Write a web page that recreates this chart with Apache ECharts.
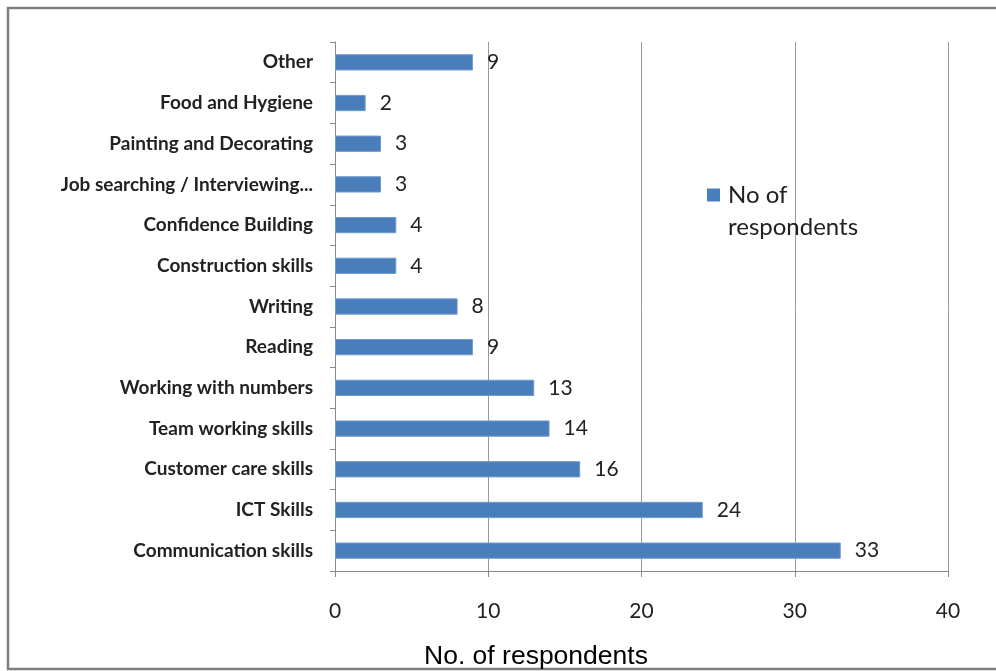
<!DOCTYPE html>
<html>
<head>
<meta charset="utf-8">
<script src="https://cdn.jsdelivr.net/npm/echarts@6/dist/echarts.min.js"></script>
<style>
  html, body { margin: 0; padding: 0; background: #fff; }
  #chart { width: 996px; height: 671px; }
</style>
</head>
<body>
<div id="chart"></div>
<script>
// categories listed bottom to top
var skills = ['Communication skills', 'ICT Skills', 'Customer care skills', 'Team working skills',
    'Working with numbers', 'Reading', 'Writing', 'Construction skills', 'Confidence Building',
    'Job searching / Interviewing...', 'Painting and Decorating', 'Food and Hygiene', 'Other'];
var respondents = [33, 24, 16, 14, 13, 9, 8, 4, 4, 3, 3, 2, 9];
var seriesName = 'No of respondents';
var axisTitle = 'No. of respondents';

var chart = echarts.init(document.getElementById('chart'));

var option = {
    animation: false,
    title: {
        text: axisTitle,
        left: 424,
        top: 643,
        padding: 0,
        textStyle: { fontFamily: 'Liberation Sans', fontSize: 26.5, fontWeight: 'normal', color: '#000' }
    },
    graphic: [{
        type: 'rect',
        shape: { x: 8, y: 8, width: 1000, height: 661 },
        style: { fill: 'none', stroke: '#7f7f7f', lineWidth: 2.5 },
        silent: true
    }],
    legend: {
        left: 702,
        top: 174,
        orient: 'vertical',
        itemWidth: 13,
        itemHeight: 45,
        itemGap: 0,
        formatter: function () { return 'No of\nrespondents'; },
        textStyle: { fontFamily: 'Lato', fontSize: 24, color: '#222', lineHeight: 32, padding: [0, 0, 0, 3] },
        itemStyle: { borderWidth: 0 },
        // square sits on the first text line
        data: [{ name: seriesName, icon: 'path://M0,0h13v13h-13z M0,45h0.01v0.01h-0.01z' }]
    },
    grid: { left: 335, top: 42, width: 613, height: 529 },
    xAxis: {
        type: 'value',
        min: 0,
        max: 40,
        interval: 10,
        axisLine: { show: true, lineStyle: { color: '#888', width: 1 } },
        axisTick: { show: true, length: 6, lineStyle: { color: '#888' } },
        splitLine: { show: true, lineStyle: { color: '#999', width: 1 } },
        axisLabel: { margin: 30, fontFamily: 'Lato', fontSize: 21, color: '#222' }
    },
    yAxis: {
        type: 'category',
        data: skills,
        axisLine: { show: true, lineStyle: { color: '#888', width: 1 } },
        axisTick: { show: true, length: 5, lineStyle: { color: '#888' } },
        axisLabel: { margin: 22, fontFamily: 'Lato', fontSize: 19, fontWeight: 'bold', color: '#222' }
    },
    series: [{
        name: seriesName,
        type: 'bar',
        data: respondents,
        barCategoryGap: '60%',
        itemStyle: { color: '#4a7ebb', borderColor: '#6f9bd0', borderWidth: 1 },
        label: {
            show: true,
            position: 'right',
            distance: 14,
            fontFamily: 'Lato',
            fontSize: 21,
            color: '#222'
        }
    }]
};
chart.setOption(option);
</script>
</body>
</html>
